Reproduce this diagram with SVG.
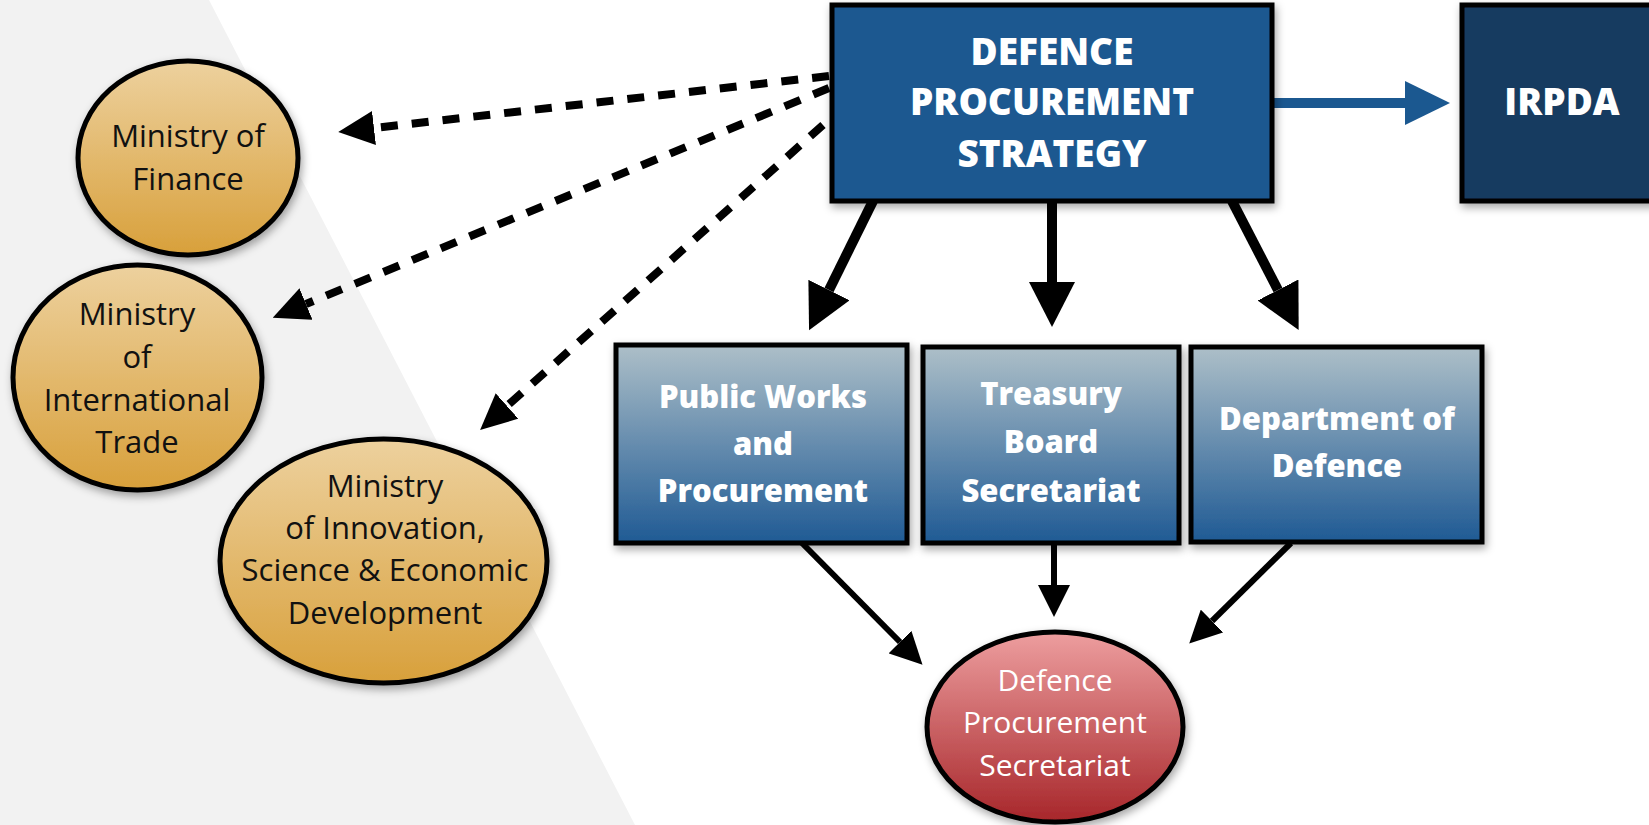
<svg xmlns="http://www.w3.org/2000/svg" width="1649" height="825" viewBox="0 0 1649 825">
<style>
.box{stroke:#000;stroke-width:5}
.ell{stroke:#000;stroke-width:5}
.bt{font-family:"Open Sans","Liberation Sans",sans-serif;font-weight:800;fill:#fff;text-anchor:middle}
.et{font-family:"Open Sans","Liberation Sans",sans-serif;font-weight:400;fill:#111;text-anchor:middle;font-size:31px}
.rt{font-family:"Open Sans","Liberation Sans",sans-serif;font-weight:400;fill:#fff;text-anchor:middle;font-size:30px}
.solid{stroke:#000;fill:none}
.dash{stroke:#000;fill:none;stroke-width:8;stroke-dasharray:17 14}
</style>
<defs>
<filter id="shadow" x="-10%" y="-10%" width="130%" height="130%">
<feDropShadow dx="2" dy="4" stdDeviation="4" flood-color="#000" flood-opacity="0.35"/>
</filter>
<linearGradient id="gBox" x1="0" y1="0" x2="0" y2="1">
<stop offset="0" stop-color="#adbfc8"/>
<stop offset="1" stop-color="#1f5a94"/>
</linearGradient>
<linearGradient id="gGold" x1="0" y1="0" x2="0" y2="1">
<stop offset="0" stop-color="#edd19e"/>
<stop offset="1" stop-color="#d8a03b"/>
</linearGradient>
<linearGradient id="gRed" x1="0" y1="0" x2="0" y2="1">
<stop offset="0" stop-color="#ed9e9f"/>
<stop offset="1" stop-color="#a7262a"/>
</linearGradient>
<marker id="mBig" markerUnits="userSpaceOnUse" viewBox="0 -23 45 46" refX="0" refY="0" markerWidth="45" markerHeight="46" orient="auto">
<path d="M0,-23 L45,0 L0,23 Z" fill="#000"/>
</marker>
<marker id="mDash" markerUnits="userSpaceOnUse" viewBox="0 -17 36 34" refX="0" refY="0" markerWidth="36" markerHeight="34" orient="auto">
<path d="M0,-17 L36,0 L0,17 Z" fill="#000"/>
</marker>
<marker id="mSmall" markerUnits="userSpaceOnUse" viewBox="0 -16 32 32" refX="0" refY="0" markerWidth="32" markerHeight="32" orient="auto">
<path d="M0,-16 L32,0 L0,16 Z" fill="#000"/>
</marker>
<marker id="mBlue" markerUnits="userSpaceOnUse" viewBox="0 -22 45 44" refX="0" refY="0" markerWidth="45" markerHeight="44" orient="auto">
<path d="M0,-22 L45,0 L0,22 Z" fill="#1b5890"/>
</marker>
</defs>
<rect x="0" y="0" width="1649" height="825" fill="#fff"/>
<polygon points="0,0 209,0 635,825 0,825" fill="#f2f2f2"/>

<g id="connectors">
<line class="dash" x1="829" y1="76" x2="374" y2="128" marker-end="url(#mDash)"/>
<line class="dash" x1="829" y1="88" x2="306" y2="304" marker-end="url(#mDash)"/>
<line class="dash" x1="823" y1="125" x2="507" y2="406" marker-end="url(#mDash)"/>
<line class="solid" stroke-width="10" x1="873" y1="201" x2="829" y2="290" marker-end="url(#mBig)"/>
<line class="solid" stroke-width="10" x1="1052" y1="201" x2="1052" y2="282" marker-end="url(#mBig)"/>
<line class="solid" stroke-width="10" x1="1232" y1="201" x2="1278" y2="290" marker-end="url(#mBig)"/>
<line stroke="#1b5890" stroke-width="10" x1="1272" y1="103" x2="1405" y2="103" marker-end="url(#mBlue)"/>
<line class="solid" stroke-width="6" x1="802" y1="543" x2="900" y2="642" marker-end="url(#mSmall)"/>
<line class="solid" stroke-width="6" x1="1054" y1="543" x2="1054" y2="585" marker-end="url(#mSmall)"/>
<line class="solid" stroke-width="6" x1="1291" y1="543" x2="1212" y2="621" marker-end="url(#mSmall)"/>
</g>

<g id="dps">
<rect class="box" x="832" y="5" width="440" height="196" fill="#1b5890" filter="url(#shadow)"/>
<text class="bt" font-size="37" x="1052" y="65">DEFENCE</text>
<text class="bt" font-size="37" x="1052" y="115">PROCUREMENT</text>
<text class="bt" font-size="37" x="1052" y="167">STRATEGY</text>
</g>

<g id="irpda">
<rect class="box" x="1462" y="5" width="200" height="196" fill="#143b60" filter="url(#shadow)"/>
<text class="bt" font-size="37" x="1562" y="115">IRPDA</text>
</g>

<g id="pwp">
<rect class="box" x="616" y="345" width="291" height="198" fill="url(#gBox)" filter="url(#shadow)"/>
<text class="bt" font-size="31" x="763" y="408">Public Works</text>
<text class="bt" font-size="31" x="763" y="455">and</text>
<text class="bt" font-size="31" x="763" y="502">Procurement</text>
</g>

<g id="tbs">
<rect class="box" x="923" y="347" width="256" height="196" fill="url(#gBox)" filter="url(#shadow)"/>
<text class="bt" font-size="31" x="1051" y="405">Treasury</text>
<text class="bt" font-size="31" x="1051" y="453">Board</text>
<text class="bt" font-size="31" x="1051" y="502">Secretariat</text>
</g>

<g id="dnd">
<rect class="box" x="1191" y="347" width="291" height="195" fill="url(#gBox)" filter="url(#shadow)"/>
<text class="bt" font-size="31" x="1337" y="430">Department of</text>
<text class="bt" font-size="31" x="1337" y="477">Defence</text>
</g>

<g id="finance">
<ellipse class="ell" cx="188" cy="158" rx="110" ry="97" fill="url(#gGold)" filter="url(#shadow)"/>
<text class="et" x="188" y="147">Ministry of</text>
<text class="et" x="188" y="190">Finance</text>
</g>

<g id="trade">
<ellipse class="ell" cx="137.5" cy="377.5" rx="124.5" ry="112.5" fill="url(#gGold)" filter="url(#shadow)"/>
<text class="et" x="137" y="325">Ministry</text>
<text class="et" x="137" y="368">of</text>
<text class="et" x="137" y="411">International</text>
<text class="et" x="137" y="453">Trade</text>
</g>

<g id="innovation">
<ellipse class="ell" cx="383.5" cy="561" rx="163.5" ry="122" fill="url(#gGold)" filter="url(#shadow)"/>
<text class="et" x="385" y="497">Ministry</text>
<text class="et" x="385" y="539">of Innovation,</text>
<text class="et" x="385" y="581">Science &amp; Economic</text>
<text class="et" x="385" y="624">Development</text>
</g>

<g id="dpsec">
<ellipse class="ell" cx="1055" cy="727" rx="128" ry="95" fill="url(#gRed)" filter="url(#shadow)"/>
<text class="rt" x="1055" y="691">Defence</text>
<text class="rt" x="1055" y="733">Procurement</text>
<text class="rt" x="1055" y="776">Secretariat</text>
</g>
</svg>
